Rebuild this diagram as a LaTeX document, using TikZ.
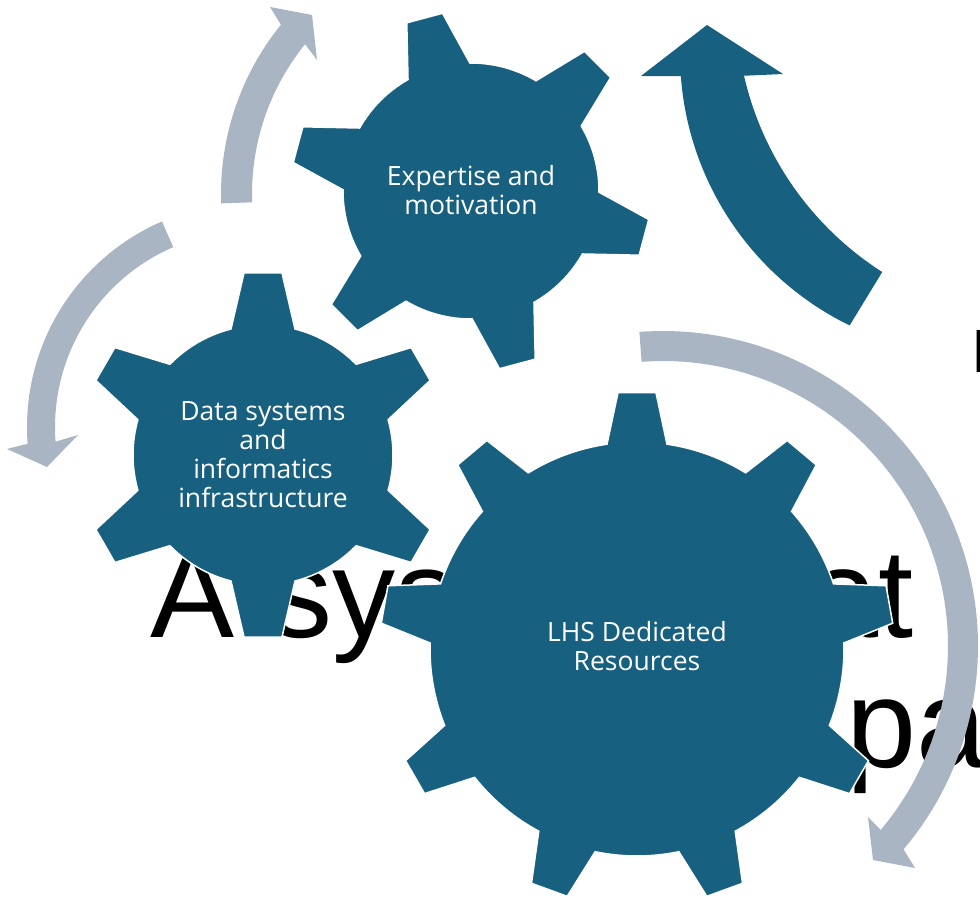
\documentclass[tikz,border=0pt]{standalone}
\usepackage{fontspec}
\setmainfont{Open Sans}
\newfontfamily\bigfont{Liberation Sans}
\definecolor{gearblue}{HTML}{18607F}
\definecolor{arrowgray}{HTML}{A9B5C2}
% cx cy Rb Rt n offset halfbase halftip
\newcommand{\gearshape}[8]{%
  \pgfmathsetmacro\gab{asin(#7/#3)}%
  \pgfmathsetmacro\gat{asin(#8/#4)}%
  \pgfmathsetmacro\gstp{360/#5}%
  \fill[gearblue, draw=white, line width=1.5pt, line join=miter]
   ({#1+#3*cos(#6-\gab)},{#2+#3*sin(#6-\gab)})
   \foreach \k in {1,...,#5} {
     -- ({#1+#4*cos(#6+(\k-1)*\gstp-\gat)},{#2+#4*sin(#6+(\k-1)*\gstp-\gat)})
     -- ({#1+#4*cos(#6+(\k-1)*\gstp+\gat)},{#2+#4*sin(#6+(\k-1)*\gstp+\gat)})
     -- ({#1+#3*cos(#6+(\k-1)*\gstp+\gab)},{#2+#3*sin(#6+(\k-1)*\gstp+\gab)})
     arc[start angle={#6+(\k-1)*\gstp+\gab}, end angle={#6+\k*\gstp-\gab}, radius=#3pt]
   } -- cycle;
}
\tikzset{
  gearlabel/.style={text=white, align=center, inner sep=0pt, font=\fontsize{26.5}{29}\selectfont},
  bigtext/.style={anchor=base west, inner sep=0pt, text=black, font=\bigfont\fontsize{126}{131}\selectfont},
  grayarrow/.style={fill=arrowgray},
  darkarrow/.style={fill=gearblue}
}
\begin{document}
\begin{tikzpicture}[x=1pt,y=1pt]
\useasboundingbox (0,0) rectangle (980,898);
\clip (0,0) rectangle (980,898);
\fill[white] (0,0) rectangle (980,898);
% background title text
\node[bigtext] (w1) at (150,261) {A system that};
\node[bigtext] (w2) at (846,131) {pa};
\node[anchor=base west, inner sep=0pt, font=\bigfont\fontsize{61}{61}\selectfont] (w3) at (971,525) {I};
% gears
\gearshape{471}{707}{128}{180}{6}{105}{32}{18.5}
\gearshape{263}{443}{130}{183}{6}{90}{32}{19}
\gearshape{637}{249}{207}{257}{9}{90}{30}{19}
% labels
\node[gearlabel] (l1) at (471,708) {Expertise and\\motivation};
\node[gearlabel] (l2) at (263,443) {Data systems\\and\\informatics\\infrastructure};
\node[gearlabel] (l3) at (637,252) {LHS Dedicated\\Resources};
% arrows
\fill[grayarrow] plot[domain=182:141, samples=60] ({490+269*cos(\x)},{704+269*sin(\x)})
  -- (270,891) -- (312,883) -- (317,838)
  -- plot[domain=141:182, samples=60] ({490+238*cos(\x)},{704+238*sin(\x)}) -- cycle;
\fill[grayarrow] plot[domain=113.4:184.3, samples=60] ({251+224*cos(\x)},{471+224*sin(\x)})
  -- (7,449) -- (47,431) -- (78,463)
  -- plot[domain=184.3:113.4, samples=60] ({251+196*cos(\x)},{471+196*sin(\x)}) -- cycle;
\fill[grayarrow] plot[domain=94.3:-40.2, samples=80] ({663+315*cos(\x)},{252+315*sin(\x)})
  -- (915,30) -- (873,38) -- (868,81)
  -- plot[domain=-40.2:94.3, samples=80] ({663+285*cos(\x)},{252+285*sin(\x)}) -- cycle;
\fill[darkarrow] plot[domain=244.0:184.2, samples=60] ({982+302*cos(\x)},{844+302*sin(\x)})
  -- (641,822) -- (707,873) -- (783,824)
  -- plot[domain=192.9:237.4, samples=60] ({1053+317*cos(\x)},{893+317*sin(\x)}) -- cycle;
\end{tikzpicture}
\end{document}
